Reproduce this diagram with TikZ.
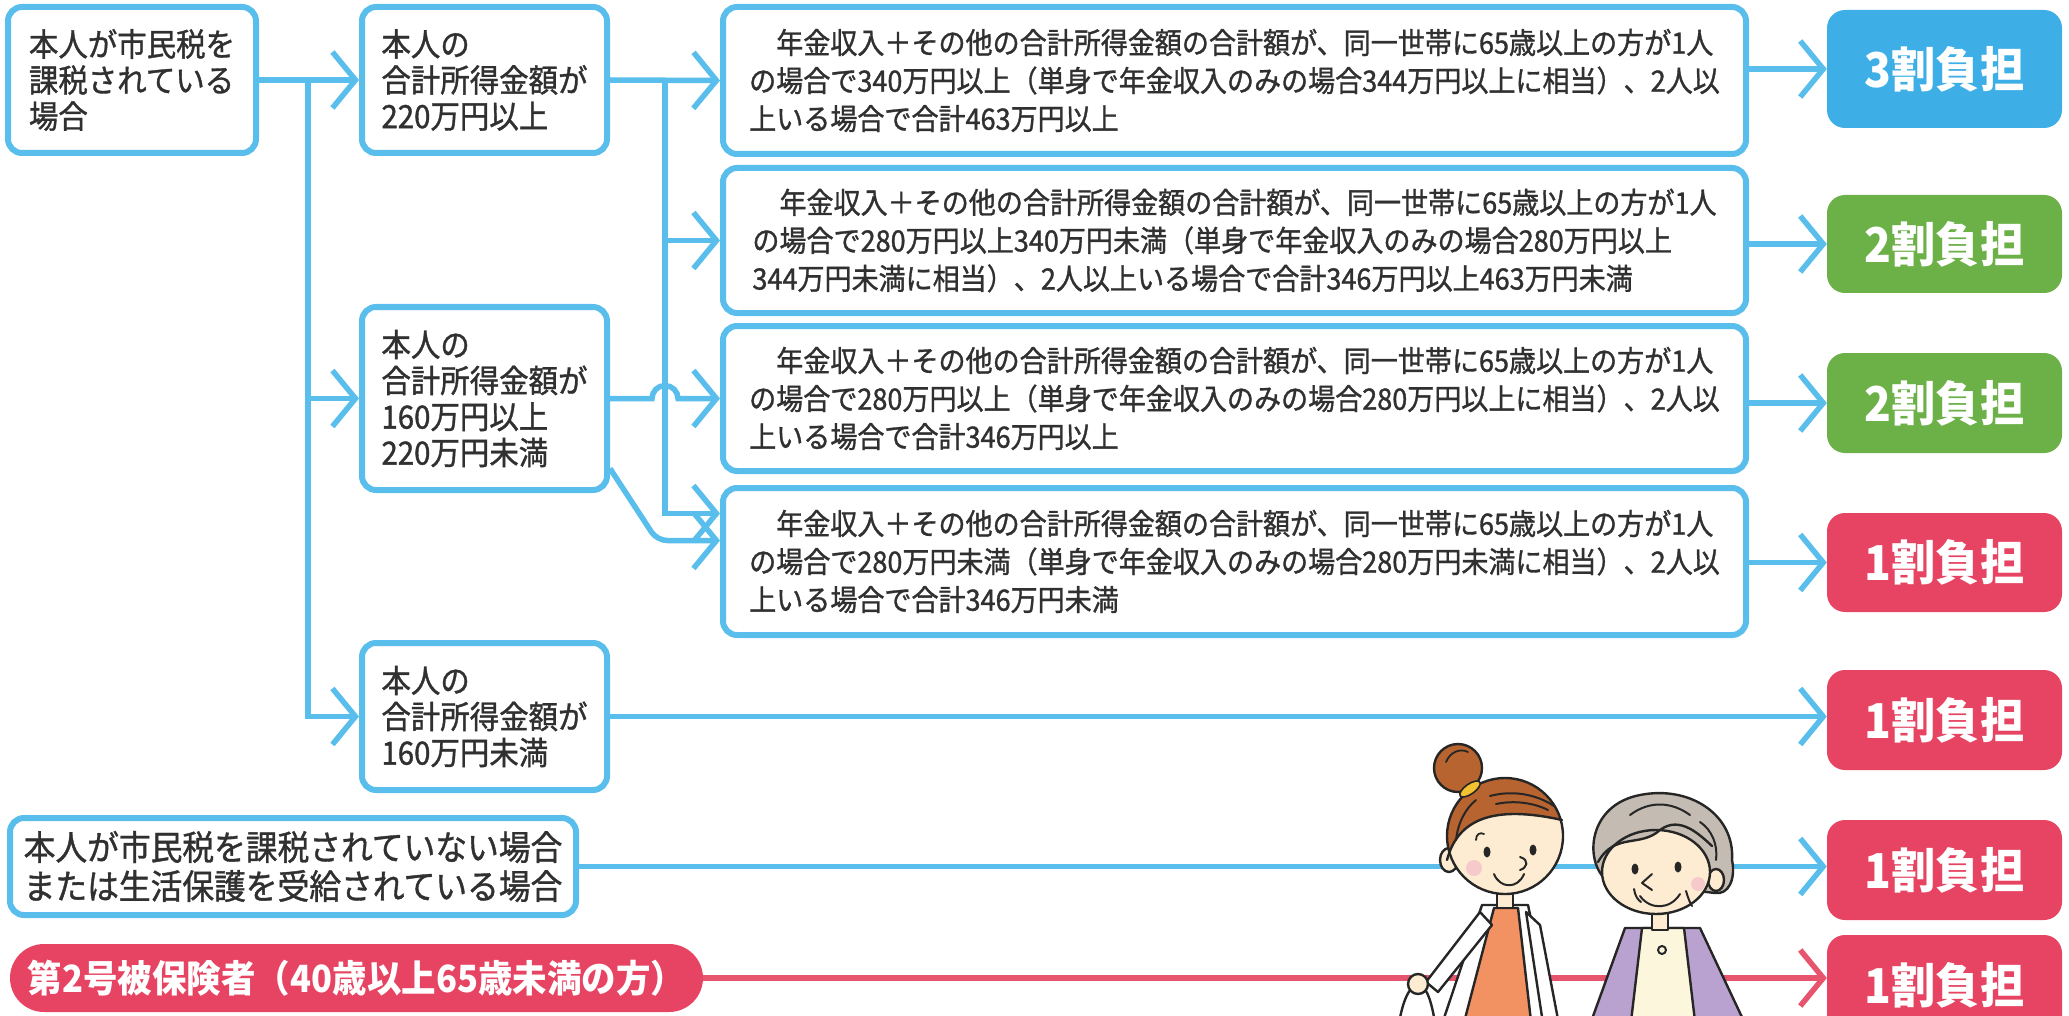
\documentclass[tikz,border=0pt]{standalone}
\usepackage{fontspec}
\newfontfamily\jp[FakeStretch=0.92,FakeBold=1.1]{Noto Sans CJK JP}
\newfontfamily\jpb[FakeStretch=0.92]{Noto Sans CJK JP}
\usetikzlibrary{arrows.meta}
\definecolor{skyb}{RGB}{90,190,236}
\definecolor{fillblue}{RGB}{62,174,230}
\definecolor{fillgreen}{RGB}{108,176,72}
\definecolor{fillred}{RGB}{230,68,98}
\definecolor{linered}{RGB}{231,84,110}
\definecolor{ink}{RGB}{48,48,48}
\definecolor{skin}{RGB}{253,236,210}
\definecolor{hairb}{RGB}{184,100,48}
\definecolor{hairg}{RGB}{196,187,178}
\definecolor{apron}{RGB}{242,145,98}
\definecolor{cardi}{RGB}{185,162,207}
\definecolor{shirt}{RGB}{251,246,220}
\definecolor{cheek}{RGB}{246,201,203}
\definecolor{tieyel}{RGB}{242,194,48}
\begin{document}
\begin{tikzpicture}[x=1pt,y=-1pt,
  box/.style={draw=skyb, line width=6pt, rounded corners=14pt, fill=white, text=ink,
    align=left, inner sep=0pt, font={\jp\fontsize{32}{36}\selectfont}},
  ebox/.style={box, font={\jp\fontsize{29.4}{38}\selectfont}, minimum width=1023pt},
  res/.style={rounded corners=18pt, text=white, inner sep=0pt, minimum width=235pt,
    font={\jpb\bfseries\fontsize{48}{52}\selectfont}},
  conn/.style={draw=skyb, line width=5.5pt, -{Straight Barb[length=23pt,width=56pt]}},
  connred/.style={conn, draw=linered},
  ol/.style={draw=black!85, line width=2.4pt, line join=round, line cap=round}]
\useasboundingbox (0,0) rectangle (2069,1016);
\clip (0,0) rectangle (2069,1016);

% ---- condition boxes ----
\node[box, minimum width=248pt, minimum height=146pt] (A) at (132,80)
  {本人が市民税を\\課税されている\\場合};
\node[box, minimum width=245pt, minimum height=146pt] (B1) at (484.5,80)
  {本人の\\合計所得金額が\\220万円以上};
\node[box, minimum width=245pt, minimum height=183pt] (B2) at (484.5,398.5)
  {本人の\\合計所得金額が\\160万円以上\\220万円未満};
\node[box, minimum width=245pt, minimum height=147pt] (B3) at (484.5,716.5)
  {本人の\\合計所得金額が\\160万円未満};
\node[box, minimum width=566pt, minimum height=97pt, font={\jp\fontsize{34.5}{39}\selectfont}] (C) at (293,866.5)
  {本人が市民税を課税されていない場合\\または生活保護を受給されている場合};
\node[fill=fillred, rounded corners=34pt, minimum width=693pt, minimum height=68pt, inner sep=0pt,
  text=white, font={\jpb\bfseries\fontsize{37.5}{40}\selectfont}] (D) at (356.5,978)
  {第2号被保険者（40歳以上65歳未満の方）};

\node[ebox, minimum height=147pt] (E1) at (1234.5,80.5)
  {　年金収入＋その他の合計所得金額の合計額が、同一世帯に65歳以上の方が1人\\の場合で340万円以上（単身で年金収入のみの場合344万円以上に相当）、2人以\\上いる場合で合計463万円以上};
\node[ebox, minimum height=145pt] (E2) at (1234.5,240.5)
  {　年金収入＋その他の合計所得金額の合計額が、同一世帯に65歳以上の方が1人\\の場合で280万円以上340万円未満（単身で年金収入のみの場合280万円以上\\344万円未満に相当）、2人以上いる場合で合計346万円以上463万円未満};
\node[ebox, minimum height=145pt] (E3) at (1234.5,398.5)
  {　年金収入＋その他の合計所得金額の合計額が、同一世帯に65歳以上の方が1人\\の場合で280万円以上（単身で年金収入のみの場合280万円以上に相当）、2人以\\上いる場合で合計346万円以上};
\node[ebox, minimum height=147pt] (E4) at (1234.5,561.5)
  {　年金収入＋その他の合計所得金額の合計額が、同一世帯に65歳以上の方が1人\\の場合で280万円未満（単身で年金収入のみの場合280万円未満に相当）、2人以\\上いる場合で合計346万円未満};

% ---- share boxes ----
\node[res, fill=fillblue, minimum height=118pt] (R1) at (1944.5,69) {3割負担};
\node[res, fill=fillgreen, minimum height=98pt] (R2) at (1944.5,244) {2割負担};
\node[res, fill=fillgreen, minimum height=100pt] (R3) at (1944.5,403) {2割負担};
\node[res, fill=fillred, minimum height=99pt] (R4) at (1944.5,562.5) {1割負担};
\node[res, fill=fillred, minimum height=100pt] (R5) at (1944.5,720) {1割負担};
\node[res, fill=fillred, minimum height=100pt] (R6) at (1944.5,870) {1割負担};
\node[res, fill=fillred, minimum height=100pt] (R7) at (1944.5,985) {1割負担};

% ---- connectors ----
\coordinate (jA) at (308,80);
\coordinate (jB) at (665,80);
\draw[conn] (A.east) -- (B1.west);
\draw[conn] (jA) |- (B2.west);
\draw[conn] (jA) |- (B3.west);
\draw[conn] (B1.east) -- (E1.west);
\draw[conn] (jB) |- (E2.west);
\draw[conn] (jB) |- ([yshift=48pt]E4.west);
\draw[conn] (B2.east) -- (652,398.5) arc[start angle=180, end angle=0, radius=13pt] -- (E3.west);
\draw[conn, rounded corners=10pt] ([yshift=-70pt]B2.east) -- (657,540.5) -- ([yshift=21pt]E4.west);
\draw[conn] (E1.east |- R1.west) -- (R1.west);
\draw[conn] (E2.east |- R2.west) -- (R2.west);
\draw[conn] (E3.east |- R3.west) -- (R3.west);
\draw[conn] (E4.east |- R4.west) -- (R4.west);
\draw[conn] (B3.east) -- (B3.east -| R5.west);
\draw[conn] (C.east) -- (C.east -| R6.west);
\draw[connred] (D.east) -- (D.east -| R7.west);

% ---- two women ----
% younger woman: body
\path[ol, fill=white] (1482,905) -- (1528,905) -- (1554,1030) -- (1440,1030) -- cycle;
\path[ol, fill=apron] (1494,908) -- (1518,908) -- (1532,1030) -- (1462,1030) -- cycle;
\path[ol, fill=white] (1480,912) -- (1492,925) -- (1438,992) -- (1426,982) -- cycle;
\path[ol, fill=white] (1526,912) -- (1540,925) -- (1560,1030) -- (1544,1030) -- cycle;
\path[ol] (1398,1030) .. controls (1402,1000) and (1410,985) .. (1418,985)
  .. controls (1426,985) and (1432,1000) .. (1436,1030);
\path[ol, fill=skin] (1418,984) circle[radius=10pt];
\path[ol, fill=skin] (1497,880) rectangle (1513,908);
% younger woman: head
\path[ol, fill=hairb] (1458,768) circle[radius=24pt];
\draw[ol, line width=1.8pt] (1446,762) .. controls (1450,752) and (1460,748) .. (1468,752);
\path[ol, fill=skin] (1449,860) ellipse[x radius=9pt, y radius=12pt];
\path[fill=skin] (1505,836) ellipse[x radius=58pt, y radius=58pt];
\begin{scope}
  \clip (1505,836) ellipse[x radius=58pt, y radius=58pt];
  \fill[hairb] (1440,885) -- (1447,860) .. controls (1458,818) and (1495,805) .. (1568,822)
    -- (1568,770) -- (1440,770) -- cycle;
\end{scope}
\draw[ol] (1505,836) ellipse[x radius=58pt, y radius=58pt];
\draw[ol] (1447,860) .. controls (1458,818) and (1495,805) .. (1562,820);
\draw[ol, line width=2pt] (1490,796) .. controls (1512,790) and (1536,794) .. (1554,806);
\draw[ol, line width=2pt] (1496,804) .. controls (1515,800) and (1534,803) .. (1548,810);
\draw[ol, line width=2pt] (1456,840) .. controls (1458,822) and (1466,808) .. (1476,800);
\path[ol, fill=tieyel, line width=1.6pt] (1470,789) ellipse[x radius=12pt, y radius=5pt, rotate=35];
\fill[black!85] (1487,852) ellipse[x radius=3.5pt, y radius=5.5pt];
\fill[black!85] (1533,850) ellipse[x radius=3.5pt, y radius=5.5pt];
\fill[cheek] (1474,868) circle[radius=8pt];
\draw[ol, line width=2pt] (1520,857) .. controls (1530,860) and (1527,868) .. (1520,870);
\draw[ol, line width=2pt] (1494,874) .. controls (1500,889) and (1518,889) .. (1524,874);
\draw[ol, line width=1.8pt] (1476,840) .. controls (1476,834) and (1480,832) .. (1484,834);
% older woman: body
\path[ol, fill=cardi] (1625,928) -- (1700,928) -- (1748,1030) -- (1588,1030) -- cycle;
\path[ol, fill=shirt] (1642,928) -- (1684,928) -- (1696,1030) -- (1630,1030) -- cycle;
\path[ol, fill=skin] (1652,905) rectangle (1668,930);
\draw[ol, line width=2pt] (1662,950) circle[radius=4pt];
% older woman: head
\path[ol, fill=hairg] (1606,880) .. controls (1584,860) and (1588,805) .. (1640,795)
  .. controls (1690,785) and (1735,815) .. (1732,860)
  .. controls (1736,880) and (1728,895) .. (1715,893) -- cycle;
\path[ol, fill=skin] (1716,880) ellipse[x radius=8pt, y radius=11pt];
\path[fill=skin] (1656,872) ellipse[x radius=54pt, y radius=42pt];
\begin{scope}
  \clip (1656,872) ellipse[x radius=54pt, y radius=42pt];
  \fill[hairg] (1598,862) .. controls (1615,832) and (1640,848) .. (1660,830)
    .. controls (1680,815) and (1700,835) .. (1714,848) -- (1714,820) -- (1598,820) -- cycle;
\end{scope}
\draw[ol] (1656,872) ellipse[x radius=54pt, y radius=42pt];
\draw[ol] (1598,862) .. controls (1615,832) and (1640,848) .. (1660,830)
  .. controls (1680,815) and (1700,835) .. (1712,846);
\draw[ol, line width=2pt] (1630,815) .. controls (1650,800) and (1672,802) .. (1690,815);
\draw[ol, line width=2pt] (1700,822) .. controls (1712,830) and (1718,845) .. (1716,860);
\fill[black!85] (1635,869) ellipse[x radius=3.5pt, y radius=5.5pt];
\fill[black!85] (1678,867) ellipse[x radius=3.5pt, y radius=5.5pt];
\fill[cheek] (1698,884) circle[radius=7pt];
\draw[ol, line width=2pt] (1652,874) -- (1642,883) -- (1652,890);
\draw[ol, line width=2pt] (1640,896) .. controls (1650,910) and (1670,910) .. (1680,894);
\draw[ol, line width=2pt] (1634,889) .. controls (1635,896) and (1638,900) .. (1641,902);
\draw[ol, line width=2pt] (1686,891) .. controls (1688,898) and (1690,903) .. (1692,906);
\end{tikzpicture}
\end{document}
